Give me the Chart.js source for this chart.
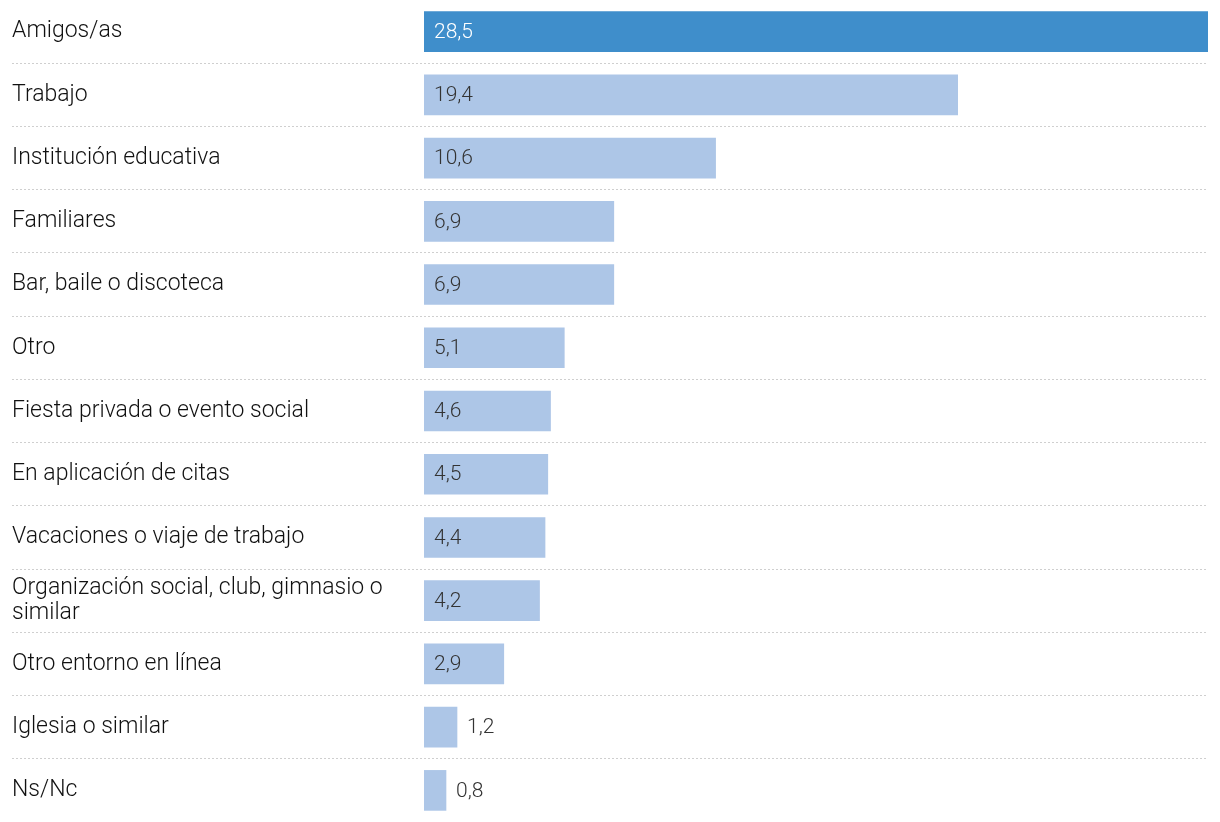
<!DOCTYPE html>
<html><head><meta charset="utf-8">
<script src="https://cdn.jsdelivr.net/npm/chart.js@4"></script>
<style>html,body{margin:0;padding:0;background:#fff}#wrap{width:1220px;height:822px}</style>
</head><body><div id="wrap"><canvas id="c"></canvas></div>
<script>
const categories = [
  'Amigos/as', 'Trabajo', 'Institución educativa', 'Familiares', 'Bar, baile o discoteca',
  'Otro', 'Fiesta privada o evento social', 'En aplicación de citas', 'Vacaciones o viaje de trabajo',
  ['Organización social, club, gimnasio o', 'similar'], 'Otro entorno en línea', 'Iglesia o similar', 'Ns/Nc'
];
const values = [28.5, 19.4, 10.6, 6.9, 6.9, 5.1, 4.6, 4.5, 4.4, 4.2, 2.9, 1.2, 0.8];
const valueLabels = ['28,5','19,4','10,6','6,9','6,9','5,1','4,6','4,5','4,4','4,2','2,9','1,2','0,8'];
const highlightIndex = 0;

const DARK = '#3f8ecb', LIGHT = '#adc6e7';

const valueLabelPlugin = {
  id: 'valueLabels',
  afterDatasetsDraw(chart) {
    const ctx = chart.ctx;
    const meta = chart.getDatasetMeta(0);
    ctx.save();
    ctx.font = '300 21px Roboto';
    ctx.textBaseline = 'middle';
    ctx.textAlign = 'left';
    meta.data.forEach((bar, i) => {
      const txt = valueLabels[i];
      const w = ctx.measureText(txt).width;
      const barW = bar.x - bar.base;
      let x;
      if (barW >= w + 20) { x = bar.base + 10; ctx.fillStyle = i === highlightIndex ? '#ffffff' : '#333333'; }
      else { x = bar.x + 10; ctx.fillStyle = '#333333'; }
      ctx.fillText(txt, x, bar.y + 1);
    });
    ctx.restore();
  }
};

const hideLine = (c) => (c.index === undefined || c.index === 0);

new Chart(document.getElementById('c'), {
  type: 'bar',
  data: {
    labels: categories,
    datasets: [{
      data: values,
      backgroundColor: values.map((v, i) => i === highlightIndex ? DARK : LIGHT),
      barThickness: 40,
      borderWidth: 0
    }]
  },
  options: {
    indexAxis: 'y',
    responsive: true,
    maintainAspectRatio: false,
    animation: false,
    layout: { padding: { left: 12, right: 12, top: 0, bottom: 0 } },
    plugins: { legend: { display: false }, tooltip: { enabled: false } },
    scales: {
      x: { display: false, min: 0, max: 28.5 },
      y: {
        afterFit(scale) { scale.width = 412; scale.paddingTop = 0; scale.paddingBottom = 0; },
        border: { display: false, dash: [2, 2] },
        grid: {
          offset: true,
          drawTicks: true,
          tickLength: 412,
          lineWidth: 1,
          tickBorderDash: [2, 2],
          color: (c) => hideLine(c) ? 'rgba(0,0,0,0)' : '#cfcfcf',
          tickColor: (c) => hideLine(c) ? 'rgba(0,0,0,0)' : '#cfcfcf'
        },
        ticks: {
          crossAlign: 'far',
          padding: 0,
          color: '#111111',
          font: { family: 'Roboto', size: 23, weight: 300, lineHeight: 1.1 }
        }
      }
    }
  },
  plugins: [valueLabelPlugin]
});
</script>
</body></html>
